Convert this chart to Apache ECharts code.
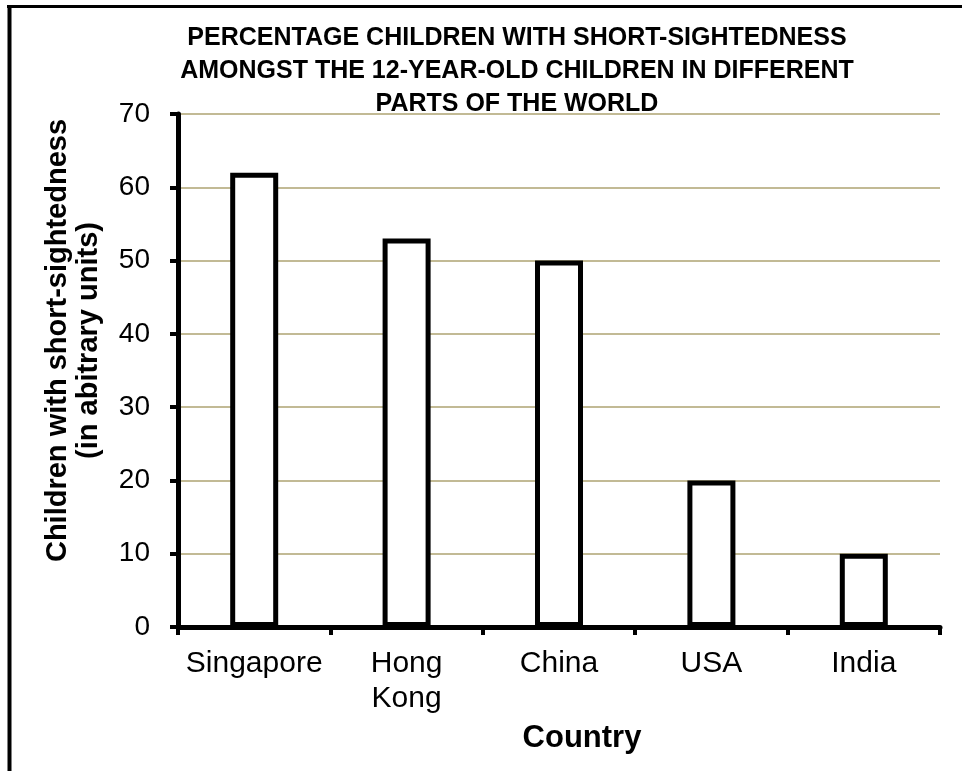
<!DOCTYPE html>
<html>
<head>
<meta charset="utf-8">
<script src="https://cdn.jsdelivr.net/npm/echarts@6/dist/echarts.min.js"></script>
<style>
  html, body { margin: 0; padding: 0; background: #ffffff; }
  #chart { width: 971px; height: 771px; }
</style>
</head>
<body>
<div id="chart"></div>
<script>
// Categories and values
const countries = ['Singapore', 'Hong\nKong', 'China', 'USA', 'India'];
const shortSighted = [62, 53, 50, 20, 10];

// Value axis range
const yMin = 0;
const yMax = 70;
const yStep = 10;

const chartTitle = 'PERCENTAGE CHILDREN WITH SHORT-SIGHTEDNESS\nAMONGST THE 12-YEAR-OLD CHILDREN IN DIFFERENT\nPARTS OF THE WORLD';
const yName = 'Children with short-sightedness\n(in abitrary units)';
const xName = 'Country';

const FONT = '"Liberation Sans", Arial, Helvetica, sans-serif';

const chart = echarts.init(document.getElementById('chart'), null, { renderer: 'canvas' });

chart.setOption({
  backgroundColor: '#ffffff',
  animation: false,
  title: {
    text: chartTitle,
    left: 517,
    top: 22,
    textAlign: 'center',
    padding: 0,
    textStyle: {
      fontFamily: FONT,
      fontSize: 25,
      fontWeight: 'bold',
      color: '#000000',
      lineHeight: 33
    }
  },
  grid: {
    left: 178,
    right: 31,
    top: 114,
    bottom: 144,
    containLabel: false
  },
  xAxis: {
    type: 'category',
    data: countries,
    name: xName,
    nameLocation: 'middle',
    nameGap: 96,
    nameTextStyle: {
      fontFamily: FONT,
      fontSize: 31,
      fontWeight: 'bold',
      color: '#000000',
      padding: [0, 0, 0, 46]
    },
    axisLine: { lineStyle: { color: '#000000', width: 5 } },
    axisTick: { show: true, length: 8, lineStyle: { color: '#000000', width: 4 } },
    axisLabel: {
      fontFamily: FONT,
      fontSize: 30,
      color: '#000000',
      margin: 19,
      lineHeight: 35,
      interval: 0
    },
    splitLine: { show: false }
  },
  yAxis: {
    type: 'value',
    min: yMin,
    max: yMax,
    interval: yStep,
    name: yName,
    nameLocation: 'middle',
    nameGap: 74,
    nameTextStyle: {
      fontFamily: FONT,
      fontSize: 29,
      fontWeight: 'bold',
      color: '#000000',
      lineHeight: 31,
      align: 'center',
      padding: [0, 0, 0, 60]
    },
    axisLine: { show: true, lineStyle: { color: '#000000', width: 5 } },
    axisTick: { show: true, length: 8, lineStyle: { color: '#000000', width: 4 } },
    axisLabel: {
      fontFamily: FONT,
      fontSize: 28,
      color: '#000000',
      margin: 28
    },
    splitLine: { show: true, lineStyle: { color: '#c2ba95', width: 2 } }
  },
  series: [{
    type: 'bar',
    data: shortSighted,
    barWidth: 48,
    itemStyle: {
      color: '#ffffff',
      borderColor: '#000000',
      borderWidth: 5
    }
  }],
  graphic: [
    // frame lines along the top and left edges
    {
      type: 'line',
      shape: { x1: 7, y1: 6.5, x2: 962, y2: 6.5 },
      style: { stroke: '#000000', lineWidth: 3 }
    },
    {
      type: 'line',
      shape: { x1: 9.5, y1: 5, x2: 9.5, y2: 771 },
      style: { stroke: '#000000', lineWidth: 4 }
    }
  ]
});
</script>
</body>
</html>
